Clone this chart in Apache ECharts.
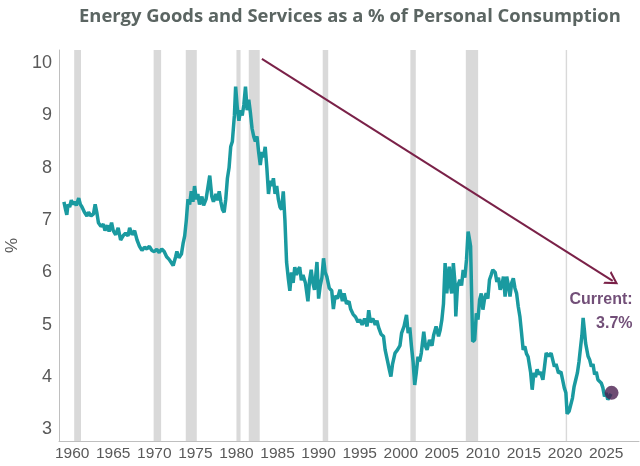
<!DOCTYPE html>
<html>
<head>
<meta charset="utf-8">
<script src="https://cdn.jsdelivr.net/npm/echarts@6/dist/echarts.min.js"></script>
<style>html,body{margin:0;padding:0;background:#fff}#c{width:640px;height:466px}</style>
</head>
<body>
<div id="c"></div>
<script>
// Decimal year and share of personal consumption (%)
const years = [
1959.0,1959.2,1959.35,1959.5,1959.7,1959.9,1960.1,1960.3,1960.5,1960.8,1961.0,1961.2,1961.5,1961.8,1962.0,1962.3,1962.6,1962.8,
1963.0,1963.2,1963.5,1963.8,1964.0,1964.3,1964.5,1964.8,1965.0,1965.3,1965.6,1965.9,1966.2,1966.5,1966.8,1967.0,1967.3,1967.6,1967.9,
1968.2,1968.5,1968.8,1969.1,1969.4,1969.7,1970.0,1970.3,1970.6,1970.9,1971.2,1971.5,1971.8,1972.1,1972.3,1972.6,1972.75,
1973.0,1973.3,1973.5,1973.7,1973.9,1974.1,1974.3,1974.5,1974.7,1974.9,1975.1,1975.3,1975.5,1975.8,1976.0,1976.3,1976.5,1976.75,
1977.0,1977.2,1977.5,1977.7,1977.9,1978.1,1978.3,1978.5,1978.7,1978.9,1979.1,1979.3,1979.5,1979.75,1979.9,1980.1,1980.3,1980.5,1980.7,1980.9,
1981.1,1981.3,1981.5,1981.7,1981.9,1982.1,1982.3,1982.5,1982.7,1982.9,1983.1,1983.3,1983.5,1983.7,1983.9,1984.1,1984.3,1984.5,1984.7,1984.9,
1985.1,1985.3,1985.5,1985.7,1985.9,1986.1,1986.3,1986.5,1986.7,1986.9,1987.1,1987.3,1987.5,1987.7,1987.9,1988.1,1988.4,1988.7,1988.9,
1989.1,1989.3,1989.5,1989.8,1990.0,1990.2,1990.4,1990.6,1990.8,1991.0,1991.3,1991.6,1991.8,1992.0,1992.3,1992.6,1992.9,
1993.1,1993.4,1993.7,1993.9,1994.2,1994.5,1994.8,1995.0,1995.3,1995.6,1995.9,1996.1,1996.3,1996.6,1996.9,1997.1,1997.3,1997.6,1997.9,
1998.1,1998.4,1998.6,1998.8,1999.0,1999.3,1999.6,1999.9,2000.1,2000.4,2000.7,2000.9,2001.1,2001.3,2001.5,2001.7,2001.9,
2002.1,2002.3,2002.5,2002.8,2003.0,2003.2,2003.5,2003.8,2004.0,2004.3,2004.6,2004.8,2005.0,2005.2,2005.4,2005.6,2005.9,
2006.1,2006.2,2006.4,2006.6,2006.7,2006.9,2007.2,2007.4,2007.6,2007.8,2008.0,2008.2,2008.4,2008.5,2008.75,2009.0,2009.2,2009.4,2009.6,2009.8,
2010.0,2010.2,2010.4,2010.6,2010.8,2011.0,2011.2,2011.5,2011.7,2011.9,2012.1,2012.3,2012.5,2012.7,2012.9,2013.1,2013.3,2013.5,2013.7,2013.9,
2014.1,2014.3,2014.5,2014.7,2014.9,2015.1,2015.3,2015.5,2015.8,2016.0,2016.2,2016.4,2016.6,2016.8,2017.0,2017.3,2017.5,2017.7,
2018.0,2018.3,2018.5,2018.7,2018.9,2019.2,2019.5,2019.7,2019.9,2020.1,2020.25,2020.5,2020.7,2020.9,2021.1,2021.3,2021.5,2021.7,2021.9,
2022.05,2022.2,2022.35,2022.5,2022.8,2023.0,2023.2,2023.4,2023.6,2023.8,2024.0,2024.2,2024.4,2024.6,2024.8,2025.0,2025.2,2025.4,2025.6
];
const share = [
7.35,7.20,7.10,7.30,7.25,7.38,7.30,7.35,7.28,7.42,7.30,7.25,7.15,7.08,7.15,7.08,7.12,7.30,
7.15,6.95,6.88,6.92,6.80,6.90,6.78,6.95,6.80,6.72,6.85,6.62,6.70,6.75,6.70,6.85,6.72,6.80,6.62,
6.50,6.42,6.48,6.45,6.50,6.42,6.40,6.44,6.38,6.45,6.40,6.30,6.25,6.18,6.13,6.30,6.40,
6.28,6.35,6.55,6.70,7.00,7.40,7.30,7.55,7.35,7.65,7.40,7.50,7.30,7.45,7.28,7.40,7.60,7.85,
7.45,7.35,7.50,7.38,7.55,7.35,7.20,7.15,7.40,7.80,8.00,8.40,8.50,9.00,9.55,9.15,8.90,9.10,9.00,9.20,
9.55,9.10,9.30,9.05,8.75,8.60,8.50,8.60,8.30,8.05,8.30,8.20,8.40,8.00,7.50,7.75,7.65,7.80,7.50,7.65,
7.40,7.25,7.20,7.55,7.00,6.20,5.90,5.65,6.00,5.80,6.10,5.95,6.05,6.10,5.85,5.95,5.80,5.45,5.85,
6.05,5.80,5.67,6.20,5.50,5.75,5.90,6.27,6.00,5.92,5.70,5.65,5.30,5.55,5.50,5.67,5.45,
5.60,5.40,5.45,5.30,5.20,5.15,5.05,5.10,5.00,5.12,4.97,5.28,5.05,5.12,5.00,5.08,4.95,4.82,4.78,
4.52,4.30,4.15,4.01,4.25,4.46,4.52,4.60,4.84,4.97,5.19,4.84,4.95,4.59,4.30,3.85,4.10,
4.39,4.30,4.46,4.87,4.60,4.52,4.71,4.60,4.80,4.97,4.78,4.90,5.09,5.40,6.18,5.60,6.11,
5.70,5.60,6.18,5.80,5.16,5.73,5.86,5.75,6.05,5.90,6.24,6.78,6.60,6.50,4.68,4.71,5.22,5.10,5.48,5.60,
5.29,5.50,5.60,5.50,5.86,5.95,6.05,6.00,5.82,5.90,5.67,5.75,5.92,5.54,5.92,5.75,5.54,5.80,5.89,5.70,
5.60,5.35,5.16,4.85,4.52,4.59,4.45,4.39,4.10,3.76,4.08,4.00,4.15,4.05,4.10,3.95,4.20,4.46,
4.40,4.46,4.45,4.20,4.25,4.08,4.10,3.95,3.80,3.70,3.30,3.35,3.38,3.60,3.82,3.95,4.08,4.30,4.59,
4.80,5.13,4.90,4.65,4.40,4.33,4.20,4.25,4.05,4.10,3.95,3.98,3.89,3.80,3.63,3.70,3.57,3.60,3.68
];
// NBER recessions [start, end] as decimal years
const recessions = [
[1960.25,1961.08],[1969.92,1970.83],[1973.83,1975.17],[1980.0,1980.5],[1981.5,1982.83],
[1990.5,1991.17],[2001.17,2001.83],[2007.92,2009.42],[2020.08,2020.25]
];
const xTicks = [1960,1965,1970,1975,1980,1985,1990,1995,2000,2005,2010,2015,2020,2025];
const yTicks = [3,4,5,6,7,8,9,10];
const current = [2025.66, 3.7];
const trendStart = [1983.1, 10.08];
const trendEnd = [2025.8, 5.84];

const chart = echarts.init(document.getElementById('c'), null, {renderer: 'canvas'});
const lineData = years.map((y, i) => [y, share[i]]);
const axisFont = '"Liberation Sans", Arial, sans-serif';

chart.setOption({
  animation: false,
  backgroundColor: '#ffffff',
  title: {
    text: 'Energy Goods and Services as a % of Personal Consumption',
    left: 74, top: 3,
    textStyle: {fontFamily: '"Open Sans", sans-serif', fontWeight: 'bold', fontSize: 18.4, color: '#5b6562'}
  },
  grid: {left: 59, right: 1, top: 50, bottom: 25, containLabel: false, outerBoundsMode: 'none'},
  xAxis: {
    type: 'value', min: 1958.4, max: 2029,
    axisLine: {show: true, lineStyle: {color: '#bfbfbf', width: 1}},
    axisTick: {show: false},
    splitLine: {show: false},
    axisLabel: {customValues: xTicks, formatter: v => String(v), color: '#595959', fontSize: 15.5, fontFamily: axisFont, margin: 5}
  },
  yAxis: {
    type: 'value', min: 2.78, max: 10.25,
    name: '%', nameLocation: 'middle', nameGap: 32, nameRotate: 90,
    nameTextStyle: {color: '#595959', fontSize: 17, fontFamily: axisFont},
    axisLine: {show: true, lineStyle: {color: '#bfbfbf', width: 1}},
    axisTick: {show: false},
    splitLine: {show: false},
    axisLabel: {customValues: yTicks, formatter: v => String(v), color: '#595959', fontSize: 18, fontFamily: axisFont, margin: 7}
  },
  series: [
    {
      type: 'line', data: [], silent: true,
      markArea: {
        silent: true,
        itemStyle: {color: '#d9d9d9'},
        data: recessions.map(r => [{xAxis: r[0]}, {xAxis: r[1]}])
      }
    },
    {
      type: 'line', data: lineData, showSymbol: false, symbol: 'none',
      lineStyle: {color: '#1a9aa0', width: 3.5}, z: 3,
      markLine: {
        silent: true,
        symbol: ['none', 'path://M0,10 L5,0 L10,10 L8.4,10 L5,3.2 L1.6,10 Z'],
        symbolSize: [15, 13],
        label: {show: false},
        lineStyle: {color: '#7a2148', width: 2, type: 'solid'},
        data: [[{coord: trendStart}, {coord: trendEnd}]]
      }
    },
    {
      type: 'scatter', data: [current], symbolSize: 14, z: 5,
      itemStyle: {color: '#4b1f50'},
      label: {
        show: true, formatter: 'Current:\n3.7%', position: [28, -98],
        align: 'right', verticalAlign: 'top',
        color: '#4f2356', fontWeight: 'bold', fontSize: 16, lineHeight: 24,
        fontFamily: '"Liberation Sans", Arial, sans-serif'
      }
    }
  ]
});
</script>
</body>
</html>
